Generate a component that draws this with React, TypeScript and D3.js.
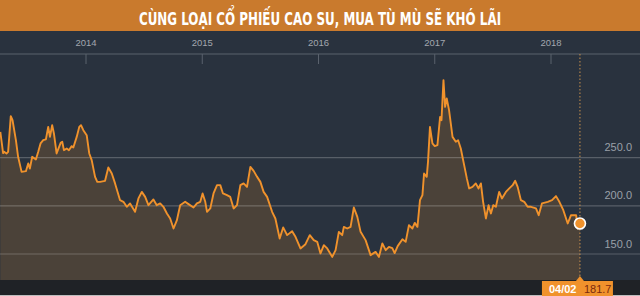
import React, { useLayoutEffect, useRef, useState } from "react";
import * as d3 from "d3";

const TITLE = "CÙNG LOẠI CỔ PHIẾU CAO SU, MUA TÙ MÙ SẼ KHÓ LÃI";

// time in decimal years
const years: number[] = [
  2013.263, 2013.287, 2013.296, 2013.316, 2013.33, 2013.353, 2013.368, 2013.397, 2013.416, 2013.446,
  2013.483, 2013.503, 2013.517, 2013.537, 2013.569, 2013.589, 2013.609, 2013.632, 2013.655, 2013.675,
  2013.69, 2013.709, 2013.724, 2013.747, 2013.782, 2013.796, 2013.81, 2013.834, 2013.853, 2013.877,
  2013.891, 2013.92, 2013.942, 2013.957, 2013.977, 2014.006, 2014.028, 2014.049, 2014.078, 2014.097,
  2014.121, 2014.164, 2014.192, 2014.222, 2014.25, 2014.293, 2014.322, 2014.351, 2014.379, 2014.422,
  2014.451, 2014.48, 2014.509, 2014.537, 2014.58, 2014.609, 2014.638, 2014.666, 2014.696, 2014.724,
  2014.753, 2014.782, 2014.81, 2014.853, 2014.882, 2014.925, 2014.954, 2014.983, 2015.003, 2015.026,
  2015.041, 2015.069, 2015.097, 2015.127, 2015.155, 2015.178, 2015.213, 2015.241, 2015.27, 2015.299,
  2015.328, 2015.356, 2015.385, 2015.414, 2015.442, 2015.472, 2015.5, 2015.528, 2015.558, 2015.601,
  2015.629, 2015.666, 2015.696, 2015.73, 2015.773, 2015.802, 2015.845, 2015.888, 2015.925, 2015.959,
  2015.989, 2016.017, 2016.046, 2016.075, 2016.118, 2016.147, 2016.175, 2016.204, 2016.218, 2016.247,
  2016.276, 2016.304, 2016.334, 2016.362, 2016.405, 2016.448, 2016.491, 2016.52, 2016.549, 2016.578,
  2016.606, 2016.635, 2016.655, 2016.681, 2016.722, 2016.75, 2016.778, 2016.808, 2016.828, 2016.851,
  2016.873, 2016.894, 2016.908, 2016.931, 2016.942, 2016.959, 2016.98, 2017.0, 2017.023, 2017.046,
  2017.058, 2017.075, 2017.089, 2017.103, 2017.123, 2017.153, 2017.181, 2017.201, 2017.224, 2017.253,
  2017.276, 2017.296, 2017.325, 2017.353, 2017.377, 2017.397, 2017.416, 2017.44, 2017.463, 2017.483,
  2017.503, 2017.526, 2017.554, 2017.578, 2017.612, 2017.641, 2017.67, 2017.692, 2017.713, 2017.741,
  2017.77, 2017.799, 2017.828, 2017.871, 2017.894, 2017.922, 2017.972, 2018.009, 2018.043, 2018.072,
  2018.106, 2018.144, 2018.172, 2018.216, 2018.23, 2018.249,
];

const values: number[] = [
  276.8, 254.7, 256.1, 254.4, 256.1, 293.1, 289.0, 268.2, 250.9, 235.3,
  236.0, 244.0, 238.8, 250.9, 248.2, 256.1, 264.8, 268.2, 269.0, 282.0,
  271.6, 283.8, 275.2, 254.4, 265.4, 266.5, 257.8, 259.6, 257.8, 262.0,
  260.6, 271.6, 282.0, 283.8, 278.6, 273.4, 254.4, 247.5, 230.1, 224.9,
  224.9, 226.0, 239.9, 233.6, 223.3, 205.9, 204.2, 199.0, 202.5, 193.8,
  207.7, 214.5, 209.3, 200.7, 206.6, 200.7, 202.5, 199.0, 192.1, 186.9,
  176.5, 185.2, 200.7, 204.2, 201.8, 198.3, 202.5, 204.2, 212.9, 204.2,
  193.8, 197.3, 212.9, 221.5, 221.5, 212.9, 211.1, 209.3, 197.3, 200.7,
  221.5, 223.3, 219.7, 240.5, 236.3, 230.1, 224.9, 214.5, 209.3, 193.8,
  186.9, 166.1, 177.6, 169.6, 173.7, 167.8, 155.8, 160.2, 169.6, 164.4,
  162.6, 150.6, 159.2, 155.8, 147.0, 154.0, 173.0, 169.6, 178.2, 176.5,
  178.2, 198.3, 188.6, 173.0, 164.4, 148.8, 152.2, 147.0, 161.0, 154.0,
  157.4, 156.1, 150.9, 158.2, 165.4, 162.6, 180.0, 176.5, 182.3, 178.2,
  205.9, 211.1, 233.6, 230.1, 245.7, 282.0, 264.8, 262.0, 263.0, 292.4,
  289.0, 330.5, 302.8, 311.5, 299.4, 271.6, 266.5, 268.2, 259.6, 242.3,
  228.5, 218.1, 219.7, 223.3, 218.1, 223.3, 204.2, 186.9, 200.7, 192.1,
  200.7, 199.0, 214.5, 207.7, 214.5, 218.1, 221.5, 226.0, 219.7, 205.9,
  204.2, 199.0, 199.0, 197.3, 190.3, 202.5, 204.2, 205.9, 210.1, 204.2,
  195.5, 181.7, 190.3, 190.3, 176.5, 181.7,
];

const yearTicks: number[] = [2014, 2015, 2016, 2017, 2018];
const valueTicks: number[] = [150, 200, 250];
const lastDateLabel = "04/02";

const W = 640;
const H = 296;
const TITLE_WIDTH = 362;

export default function App() {
  const titleRef = useRef<SVGTextElement | null>(null);
  const [titleScale, setTitleScale] = useState(0.7);

  useLayoutEffect(() => {
    const el = titleRef.current;
    if (el) {
      const w = el.getBBox().width;
      if (w > 0) setTitleScale(TITLE_WIDTH / w);
    }
  }, []);

  const x = d3.scaleLinear().domain([2014, 2018]).range([86, 551]);
  const y = d3.scaleLinear().domain([150, 250]).range([254, 157.7]);
  const plotTop = 54;
  const plotBottom = 280;

  const pts = years.map((t, i) => ({ t, v: values[i] }));
  const line = d3
    .line<{ t: number; v: number }>()
    .x((d) => x(d.t))
    .y((d) => y(d.v));
  const area = d3
    .area<{ t: number; v: number }>()
    .x((d) => x(d.t))
    .y0(plotBottom)
    .y1((d) => y(d.v));

  const last = pts[pts.length - 1];
  const lx = x(last.t);
  const ly = y(last.v);

  return (
    <svg
      width={W}
      height={H}
      style={{ position: "absolute", left: 0, top: 0, display: "block" }}
    >
      {/* title bar */}
      <rect x={0} y={0} width={W} height={31} fill="#c97a2d" />
      <g transform={`translate(${W / 2},24.5) scale(${titleScale},1)`}>
        <text
          ref={titleRef}
          x={0}
          y={0}
          textAnchor="middle"
          fill="#ffffff"
          fontFamily="'DejaVu Sans Condensed', 'DejaVu Sans', sans-serif"
          fontWeight="bold"
          fontSize={18.5}
        >
          {TITLE}
        </text>
      </g>

      {/* dark chart background */}
      <rect x={0} y={31} width={W} height={plotBottom - 31} fill="#29323e" />
      <rect x={0} y={plotBottom} width={W} height={H - plotBottom} fill="#1f2226" />
      <rect x={0} y={H - 1} width={W} height={1} fill="#bdbdbd" />

      {/* x axis */}
      <line x1={0} x2={W} y1={plotTop} y2={plotTop} stroke="#5a626d" strokeWidth={1} />
      {yearTicks.map((t) => (
        <g key={t}>
          <line x1={x(t)} x2={x(t)} y1={plotTop} y2={plotTop + 10} stroke="#5a626d" strokeWidth={1} />
          <text
            x={x(t)}
            y={46}
            textAnchor="middle"
            fill="#a2a7ae"
            fontFamily="'Liberation Sans', Arial, sans-serif"
            fontSize={9.5}
          >
            {t}
          </text>
        </g>
      ))}

      {/* area + line */}
      <path d={area(pts) || ""} fill="#4b4239" />
      {valueTicks.map((v) => (
        <line
          key={v}
          x1={0}
          x2={W}
          y1={y(v)}
          y2={y(v)}
          stroke="#ffffff"
          strokeOpacity={0.22}
          strokeWidth={1.2}
        />
      ))}
      <path d={line(pts) || ""} fill="none" stroke="#f0922c" strokeWidth={1.9} strokeLinejoin="round" />

      {/* y labels */}
      {valueTicks.map((v) => (
        <text
          key={v}
          x={632}
          y={y(v) - 6.5}
          textAnchor="end"
          fill="#9aa0a8"
          fontFamily="'Liberation Sans', Arial, sans-serif"
          fontSize={11}
        >
          {v.toFixed(1)}
        </text>
      ))}

      {/* crosshair */}
      <line
        x1={lx}
        x2={lx}
        y1={plotTop}
        y2={plotBottom - 3}
        stroke="#c8904e"
        strokeWidth={1}
        strokeDasharray="1.5,2"
      />
      <circle cx={lx} cy={ly} r={5.5} fill="#f0922c" stroke="#ffffff" strokeWidth={1.6} />

      {/* date/value box */}
      <path
        d={`M${lx - 4},${plotBottom + 1} L${lx},${plotBottom - 4} L${lx + 4},${plotBottom + 1} Z`}
        fill="#f0922c"
      />
      <rect x={lx - 38} y={plotBottom + 1} width={71} height={H - plotBottom - 1} fill="#f0922c" />
      <text
        x={lx - 31}
        y={292.5}
        fill="#ffffff"
        fontFamily="'Liberation Sans', Arial, sans-serif"
        fontWeight="bold"
        fontSize={11}
      >
        {lastDateLabel}
      </text>
      <text
        x={lx + 4}
        y={292.5}
        fill="#7a2a0e"
        fontFamily="'Liberation Sans', Arial, sans-serif"
        fontSize={11}
      >
        {last.v.toFixed(1)}
      </text>
    </svg>
  );
}
